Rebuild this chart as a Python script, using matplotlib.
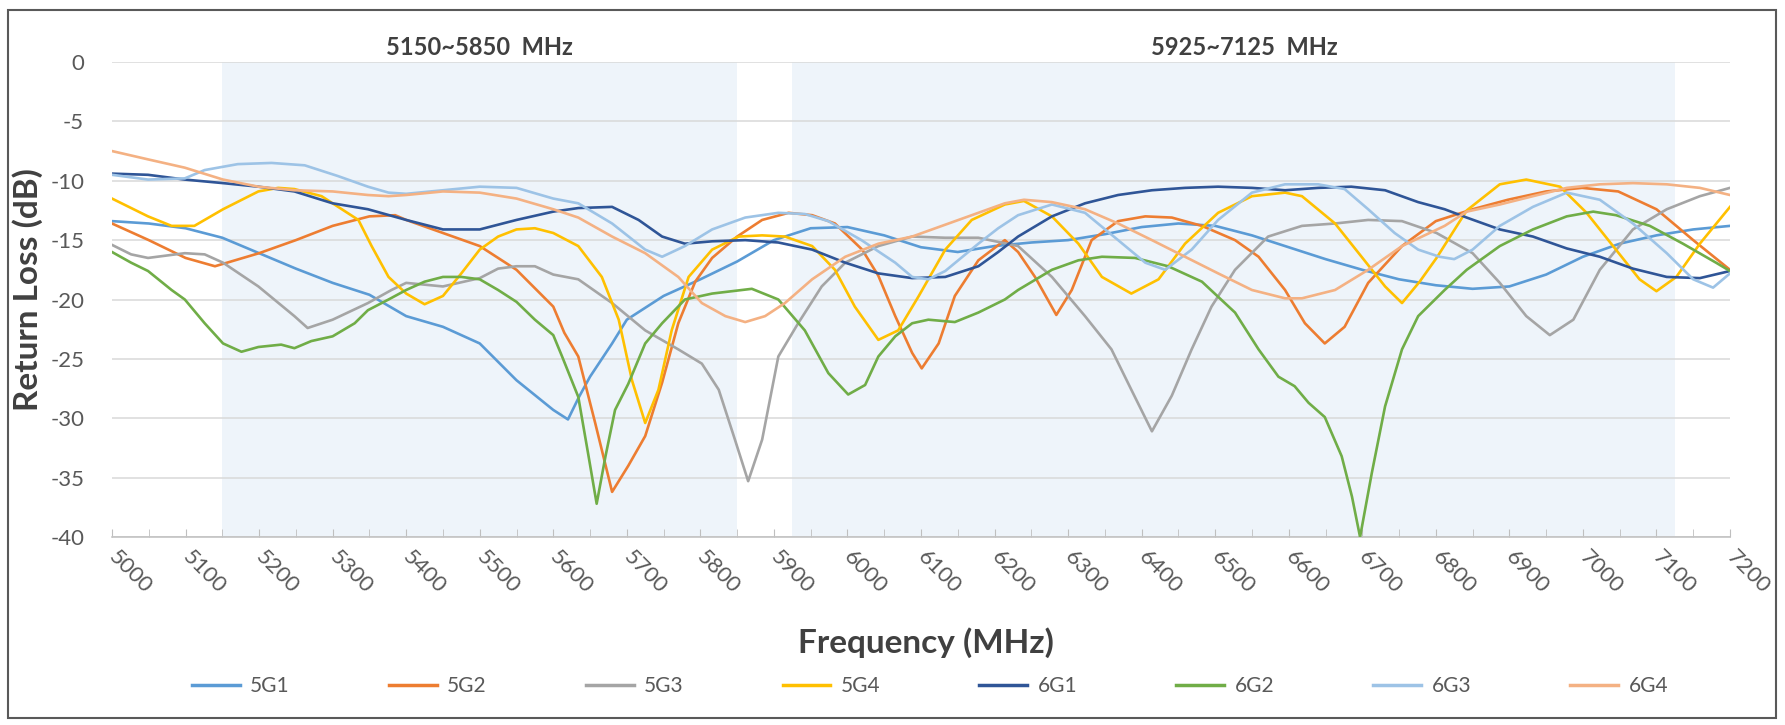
import matplotlib
matplotlib.use('Agg')
import matplotlib.pyplot as plt
from matplotlib.patches import Rectangle
from matplotlib.lines import Line2D

plt.rcParams['font.family'] = ['Lato', 'DejaVu Sans']
plt.rcParams['axes.unicode_minus'] = False

# frequency (MHz) and return loss (dB), one pair per antenna
f_5g1 = [5000, 5050, 5100, 5150, 5200, 5250, 5300, 5350, 5400, 5450, 5500, 5550, 5600, 5620, 5635,
         5650, 5680, 5700, 5750, 5800, 5850, 5900, 5950, 6000, 6050, 6100, 6150, 6200, 6250, 6300,
         6350, 6400, 6450, 6500, 6550, 6600, 6650, 6700, 6750, 6800, 6850, 6900, 6950, 7000, 7050,
         7100, 7150, 7200]
rl_5g1 = [-13.4, -13.6, -14.0, -14.8, -16.1, -17.4, -18.6, -19.6, -21.4, -22.3, -23.7, -26.8, -29.3, -30.1, -28.2,
          -26.5, -23.7, -21.7, -19.7, -18.3, -16.8, -15.0, -14.0, -13.9, -14.6, -15.6, -16.0, -15.5, -15.2, -15.0,
          -14.5, -13.9, -13.6, -13.8, -14.6, -15.6, -16.6, -17.5, -18.3, -18.8, -19.1, -18.9, -17.9, -16.4, -15.3,
          -14.6, -14.1, -13.8]

f_5g2 = [5000, 5050, 5100, 5140, 5200, 5250, 5300, 5350, 5385, 5400, 5450, 5500, 5550, 5600, 5615,
         5634, 5657, 5680, 5702, 5725, 5748, 5770, 5793, 5816, 5850, 5884, 5920, 5952, 5983, 6020,
         6042, 6065, 6088, 6101, 6124, 6146, 6178, 6214, 6232, 6255, 6284, 6305, 6332, 6368, 6405,
         6441, 6482, 6527, 6559, 6595, 6622, 6649, 6676, 6708, 6754, 6800, 6850, 6898, 6950, 6999,
         7048, 7100, 7150, 7200]
rl_5g2 = [-13.6, -15.0, -16.5, -17.2, -16.1, -15.0, -13.8, -13.0, -12.9, -13.3, -14.4, -15.5, -17.5, -20.6, -22.8,
          -24.8, -30.4, -36.2, -34.0, -31.5, -27.0, -22.0, -18.5, -16.5, -14.7, -13.3, -12.7, -12.9, -13.6, -15.8,
          -18.0, -21.4, -24.5, -25.8, -23.7, -19.7, -16.7, -15.0, -16.0, -18.1, -21.3, -19.2, -15.0, -13.4, -13.0,
          -13.1, -13.8, -15.0, -16.4, -19.2, -22.0, -23.7, -22.3, -18.6, -15.5, -13.4, -12.4, -11.6, -10.9, -10.6,
          -10.9, -12.4, -15.0, -17.5]

f_5g3 = [5000, 5026, 5049, 5099, 5126, 5151, 5199, 5248, 5266, 5300, 5348, 5380, 5400, 5450, 5500,
         5525, 5550, 5575, 5600, 5634, 5680, 5725, 5770, 5802, 5825, 5847, 5865, 5884, 5906, 5933,
         5965, 5997, 6042, 6088, 6133, 6178, 6232, 6278, 6323, 6359, 6386, 6414, 6441, 6468, 6495,
         6527, 6572, 6618, 6663, 6708, 6754, 6801, 6850, 6887, 6923, 6955, 6987, 7023, 7068, 7114,
         7159, 7200]
rl_5g3 = [-15.4, -16.2, -16.5, -16.1, -16.2, -16.9, -18.9, -21.4, -22.4, -21.7, -20.3, -19.2, -18.6, -18.9, -18.2,
          -17.4, -17.2, -17.2, -17.9, -18.3, -20.3, -22.6, -24.2, -25.4, -27.6, -31.8, -35.3, -31.8, -24.8, -22.0,
          -18.9, -16.9, -15.5, -14.7, -14.8, -14.8, -15.5, -18.1, -21.4, -24.2, -27.6, -31.1, -28.1, -24.2, -20.6,
          -17.5, -14.7, -13.8, -13.6, -13.3, -13.4, -14.4, -16.1, -18.6, -21.4, -23.0, -21.7, -17.5, -14.1, -12.4,
          -11.3, -10.6]

f_5g4 = [5000, 5049, 5081, 5112, 5151, 5199, 5226, 5248, 5285, 5335, 5353, 5376, 5400, 5425, 5450,
         5475, 5500, 5525, 5550, 5575, 5600, 5634, 5666, 5689, 5707, 5725, 5743, 5761, 5784, 5816,
         5852, 5884, 5915, 5952, 5983, 6010, 6042, 6069, 6097, 6133, 6169, 6214, 6240, 6278, 6314,
         6346, 6386, 6423, 6459, 6504, 6550, 6595, 6618, 6663, 6699, 6731, 6754, 6778, 6801, 6842,
         6887, 6923, 6969, 7005, 7041, 7077, 7100, 7127, 7159, 7200]
rl_5g4 = [-11.5, -13.0, -13.8, -13.8, -12.4, -10.9, -10.6, -10.7, -11.3, -13.3, -15.5, -18.1, -19.5, -20.4, -19.7,
          -17.8, -15.8, -14.7, -14.1, -14.0, -14.4, -15.5, -18.1, -21.7, -26.8, -30.4, -27.6, -22.6, -18.1, -15.8,
          -14.7, -14.6, -14.7, -15.5, -17.5, -20.6, -23.4, -22.6, -19.7, -15.8, -13.3, -12.0, -11.7, -13.0, -15.3,
          -18.1, -19.5, -18.3, -15.3, -12.7, -11.3, -11.0, -11.3, -13.6, -16.4, -18.9, -20.3, -18.5, -16.5, -12.5,
          -10.3, -9.9, -10.5, -12.7, -15.5, -18.3, -19.3, -18.1, -15.3, -12.2]

f_6g1 = [5000, 5049, 5099, 5151, 5199, 5248, 5300, 5348, 5400, 5450, 5500, 5550, 5600, 5634, 5680,
         5716, 5748, 5779, 5816, 5861, 5906, 5952, 5997, 6042, 6088, 6133, 6178, 6205, 6232, 6278,
         6323, 6368, 6414, 6459, 6504, 6550, 6595, 6640, 6685, 6731, 6776, 6812, 6842, 6887, 6932,
         6978, 7023, 7068, 7114, 7159, 7200]
rl_6g1 = [-9.4, -9.5, -9.9, -10.2, -10.5, -10.9, -11.9, -12.4, -13.3, -14.1, -14.1, -13.3, -12.6, -12.3, -12.2,
          -13.3, -14.7, -15.3, -15.1, -15.0, -15.2, -15.8, -16.9, -17.8, -18.2, -18.1, -17.2, -16.0, -14.7, -13.0,
          -11.9, -11.2, -10.8, -10.6, -10.5, -10.6, -10.8, -10.6, -10.5, -10.8, -11.8, -12.4, -13.1, -14.1, -14.7,
          -15.7, -16.4, -17.4, -18.1, -18.2, -17.6]

f_6g2 = [5000, 5026, 5049, 5081, 5099, 5126, 5151, 5176, 5199, 5230, 5248, 5271, 5300, 5330, 5348,
         5376, 5400, 5425, 5450, 5475, 5500, 5525, 5550, 5575, 5600, 5612, 5634, 5648, 5659, 5671,
         5684, 5702, 5725, 5748, 5779, 5816, 5843, 5870, 5906, 5942, 5974, 6001, 6024, 6042, 6065,
         6088, 6110, 6146, 6178, 6214, 6232, 6278, 6314, 6346, 6391, 6436, 6482, 6527, 6559, 6586,
         6608, 6627, 6649, 6672, 6686, 6697, 6713, 6731, 6754, 6776, 6812, 6842, 6887, 6932, 6978,
         7014, 7045, 7091, 7136, 7181, 7200]
rl_6g2 = [-16.0, -16.9, -17.6, -19.2, -20.0, -22.0, -23.7, -24.4, -24.0, -23.8, -24.1, -23.5, -23.1, -22.0, -20.9,
          -20.0, -19.2, -18.5, -18.1, -18.1, -18.3, -19.2, -20.2, -21.7, -23.0, -24.8, -28.2, -33.2, -37.2, -33.2,
          -29.3, -27.1, -23.7, -22.0, -20.0, -19.5, -19.3, -19.1, -20.0, -22.6, -26.2, -28.0, -27.2, -24.8, -23.1,
          -22.0, -21.7, -21.9, -21.1, -20.0, -19.2, -17.5, -16.7, -16.4, -16.5, -17.2, -18.5, -21.1, -24.2, -26.5,
          -27.3, -28.7, -29.9, -33.2, -36.6, -40.0, -34.6, -29.0, -24.2, -21.4, -19.2, -17.5, -15.5, -14.1, -13.0,
          -12.6, -12.9, -13.8, -15.3, -16.9, -17.6]

f_6g3 = [5000, 5049, 5099, 5126, 5171, 5217, 5262, 5307, 5348, 5376, 5400, 5450, 5500, 5550, 5600,
         5634, 5680, 5725, 5748, 5779, 5816, 5861, 5906, 5942, 5974, 6019, 6065, 6088, 6110, 6133,
         6178, 6205, 6232, 6278, 6323, 6368, 6405, 6432, 6468, 6504, 6550, 6595, 6640, 6676, 6708,
         6744, 6776, 6805, 6825, 6850, 6887, 6932, 6978, 7023, 7068, 7114, 7150, 7177, 7200]
rl_6g3 = [-9.5, -9.9, -9.8, -9.1, -8.6, -8.5, -8.7, -9.6, -10.5, -11.0, -11.1, -10.8, -10.5, -10.6, -11.5,
          -11.9, -13.6, -15.8, -16.4, -15.5, -14.1, -13.1, -12.7, -12.8, -13.4, -15.0, -16.9, -18.1, -18.3, -17.6,
          -15.3, -14.0, -12.9, -12.0, -12.7, -15.0, -16.9, -17.5, -15.8, -13.3, -11.0, -10.3, -10.3, -10.7, -12.4,
          -14.4, -15.8, -16.4, -16.6, -15.8, -13.8, -12.2, -11.0, -11.6, -13.6, -16.1, -18.3, -19.0, -17.8]

f_6g4 = [5000, 5049, 5099, 5151, 5199, 5248, 5300, 5348, 5376, 5400, 5450, 5500, 5550, 5600, 5634,
         5680, 5725, 5770, 5802, 5834, 5861, 5888, 5915, 5952, 5997, 6042, 6088, 6133, 6178, 6214,
         6240, 6278, 6323, 6368, 6414, 6459, 6504, 6550, 6595, 6618, 6663, 6708, 6754, 6812, 6842,
         6887, 6932, 6978, 7023, 7068, 7114, 7159, 7200]
rl_6g4 = [-7.5, -8.2, -8.9, -9.9, -10.5, -10.8, -10.9, -11.2, -11.3, -11.2, -10.9, -11.0, -11.5, -12.4, -13.1,
          -14.7, -16.1, -18.1, -20.3, -21.4, -21.9, -21.4, -20.3, -18.3, -16.4, -15.3, -14.7, -13.7, -12.7, -11.9,
          -11.6, -11.8, -12.4, -13.6, -15.0, -16.4, -17.8, -19.2, -19.9, -19.9, -19.2, -17.5, -15.5, -13.8, -12.6,
          -12.0, -11.3, -10.6, -10.3, -10.2, -10.3, -10.6, -11.2]

names = ['5G1', '5G2', '5G3', '5G4', '6G1', '6G2', '6G3', '6G4']
freqs = [f_5g1, f_5g2, f_5g3, f_5g4, f_6g1, f_6g2, f_6g3, f_6g4]
losses = [rl_5g1, rl_5g2, rl_5g3, rl_5g4, rl_6g1, rl_6g2, rl_6g3, rl_6g4]
colors = ['#5B9BD5', '#ED7D31', '#A5A5A5', '#FFC000', '#2F5597', '#70AD47', '#9DC3E6', '#F4B183']

bands = [(5150, 5850), (5925, 7125)]
band_labels = ['5150~5850  MHz', '5925~7125  MHz']
band_label_x = [5500, 6540]

W, H = 1785, 725
fig = plt.figure(figsize=(W / 100, H / 100), dpi=100)
ax = fig.add_axes([112 / W, 1 - 537 / H, (1730 - 112) / W, (537 - 62) / H])

for (lo, hi) in bands:
    ax.axvspan(lo, hi, color='#EEF4FA', zorder=0, lw=0)

for f, rl, c, n in zip(freqs, losses, colors, names):
    ax.plot(f, rl, color=c, lw=1.9, label=n, zorder=3, solid_joinstyle='round')

for x, t in zip(band_label_x, band_labels):
    ax.text(x, 1.2, t, ha='center', va='center', fontsize=17, fontweight='bold',
            color='#404040', clip_on=False)

ax.set_xlim(5000, 7200)
ax.set_ylim(-40, 0)
ax.set_yticks(range(-40, 1, 5))
ax.set_xticks(range(5000, 7201, 100))
ax.set_xticks(range(5050, 7200, 100), minor=True)
ax.grid(axis='y', color='#D9D9D9', lw=1.1, zorder=1)
ax.set_axisbelow(True)
for s in ['top', 'right', 'left']:
    ax.spines[s].set_visible(False)
ax.spines['bottom'].set_color('#BFBFBF')
ax.spines['bottom'].set_linewidth(1.1)
ax.set_facecolor('none')

ax.tick_params(axis='y', length=0, pad=20, labelsize=16, labelcolor='#595959')
ax.tick_params(axis='x', which='both', direction='in', length=6, color='#BFBFBF',
               pad=12, labelsize=16, labelcolor='#595959')
for lab in ax.get_xticklabels():
    lab.set_rotation(-45)
    lab.set_rotation_mode('anchor')
    lab.set_ha('left')
    lab.set_va('center')

fig.text(28 / W, 1 - 290 / H, 'Return Loss (dB)', rotation=90, ha='center', va='center',
         fontsize=24, fontweight='bold', color='#404040')
fig.text(0.5 * (112 + 1730) / W + 0.003, 1 - 643 / H, 'Frequency (MHz)', ha='center', va='center',
         fontsize=24, fontweight='bold', color='#404040')

handles = [Line2D([], [], color=c, lw=2.5) for c in colors]
fig.legend(handles, names, loc='center', bbox_to_anchor=(0.521, 1 - 686 / H), ncol=8,
           frameon=False, fontsize=15, handlelength=2.3, handletextpad=0.5,
           columnspacing=4.75, labelcolor='#595959')

fig.patches.append(Rectangle((8 / W, 1 - 718 / H), (1776 - 8) / W, (718 - 10) / H,
                             transform=fig.transFigure, fill=False, edgecolor='#595959', lw=1.5))

fig.savefig('out.png', dpi=100)
